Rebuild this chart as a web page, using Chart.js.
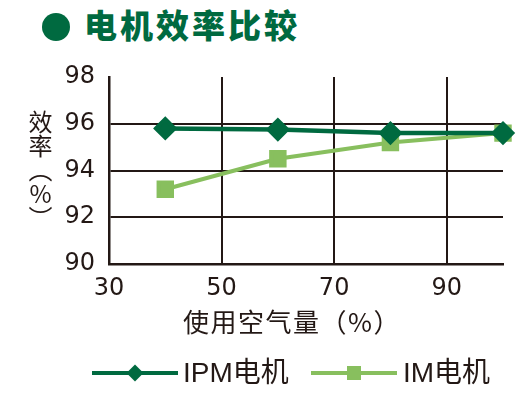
<!DOCTYPE html>
<html>
<head>
<meta charset="utf-8">
<script src="https://cdn.jsdelivr.net/npm/chart.js@4/dist/chart.umd.min.js"></script>
<style>
  body { margin: 0; width: 526px; height: 395px; background: #fff; position: relative; overflow: hidden;
         font-family: "Noto Sans CJK SC", sans-serif; color: #231815; }
  #chart { position: absolute; left: 0; top: 0; }
  #title { position: absolute; left: 42px; top: 1px; font-size: 33px; font-weight: 900; color: #006a40;
           letter-spacing: 3px; line-height: 46px; white-space: nowrap; }
  #title .dot { display: inline-block; width: 28px; height: 28px; border-radius: 50%; background: #006a40;
                vertical-align: -3px; margin-right: 14px; }
  #yTitle { position: absolute; left: 26px; top: 110px; writing-mode: vertical-rl; font-size: 24px; line-height: 28px; }
  #xTitle { position: absolute; left: 183px; top: 304px; font-size: 26px; line-height: 34px; letter-spacing: 1.5px; white-space: nowrap; }
  .lg-line { position: absolute; height: 4px; }
  .lg-mark { position: absolute; }
  .lg-text { position: absolute; font-family: "Liberation Sans", "Noto Sans CJK SC", sans-serif; font-size: 28px; line-height: 30px; white-space: nowrap; }
</style>
</head>
<body>
<div id="title"><span class="dot"></span>电机效率比较</div>
<canvas id="chart" width="526" height="395"></canvas>
<div id="yTitle">效率（<span style="text-orientation: upright">%</span>）</div>
<div id="xTitle">使用空气量（%）</div>
<div id="legend"></div>
<script>
const airUsage = [40, 60, 80, 100];
const ipmEfficiency = [95.8, 95.75, 95.6, 95.6];
const imEfficiency = [93.2, 94.5, 95.2, 95.6];
const xTickValues = [30, 50, 70, 90];
const yTickValues = [90, 92, 94, 96, 98];
const seriesNames = ['IPM电机', 'IM电机'];

const darkGreen = '#006a40';
const lightGreen = '#88bf5e';
const ink = '#231815';
const tickFont = { family: 'DejaVu Sans', size: 24 };

function toPoints(values) {
  return airUsage.map((x, i) => ({ x: x, y: values[i] }));
}

new Chart(document.getElementById('chart'), {
  type: 'line',
  data: {
    datasets: [{
      label: seriesNames[0],
      data: toPoints(ipmEfficiency),
      borderColor: darkGreen,
      backgroundColor: darkGreen,
      borderWidth: 4.5,
      pointStyle: 'rectRot',
      pointRadius: 9,
      pointHoverRadius: 9,
      clip: false
    }, {
      label: seriesNames[1],
      data: toPoints(imEfficiency),
      borderColor: lightGreen,
      backgroundColor: lightGreen,
      borderWidth: 4,
      pointStyle: 'rect',
      pointRadius: 9.5,
      pointHoverRadius: 9.5,
      clip: false
    }]
  },
  options: {
    responsive: false,
    devicePixelRatio: 1,
    animation: false,
    layout: { padding: { top: 77, right: 23, left: 0, bottom: 0 } },
    plugins: { legend: { display: false }, tooltip: { enabled: false } },
    scales: {
      x: {
        type: 'linear',
        min: 30,
        max: 100,
        afterBuildTicks: s => { s.ticks = xTickValues.map(v => ({ value: v })); },
        afterFit: s => { s.height = 131; },
        grid: {
          color: c => (c.tick && c.tick.value === 30) ? 'rgba(0,0,0,0)' : ink,
          lineWidth: 2,
          drawTicks: false
        },
        border: { color: ink, width: 2.5 },
        ticks: { padding: 10, font: tickFont, color: ink }
      },
      y: {
        min: 90,
        max: 98,
        afterBuildTicks: s => { s.ticks = yTickValues.map(v => ({ value: v })); },
        afterFit: s => { s.width = 109; },
        grid: {
          color: c => (c.tick && (c.tick.value === 98 || c.tick.value === 90)) ? 'rgba(0,0,0,0)' : ink,
          lineWidth: 2,
          drawTicks: false
        },
        border: { color: ink, width: 2.5 },
        ticks: { padding: 14, font: tickFont, color: ink }
      }
    }
  }
});

// legend: line with marker, then the series name
const legend = document.getElementById('legend');
const legendItems = [
  { name: seriesNames[0], color: darkGreen, lineLeft: 92, textLeft: 183, diamond: true },
  { name: seriesNames[1], color: lightGreen, lineLeft: 311, textLeft: 403, diamond: false }
];
legendItems.forEach(item => {
  const line = document.createElement('div');
  line.className = 'lg-line';
  line.style.cssText = `left:${item.lineLeft}px;top:371px;width:86px;background:${item.color}`;
  legend.appendChild(line);
  const mark = document.createElement('div');
  mark.className = 'lg-mark';
  const size = item.diamond ? 12 : 14;
  mark.style.cssText = `left:${item.lineLeft + 43 - size / 2}px;top:${373 - size / 2}px;width:${size}px;height:${size}px;background:${item.color};` +
    (item.diamond ? 'transform:rotate(45deg);' : '');
  legend.appendChild(mark);
  const text = document.createElement('div');
  text.className = 'lg-text';
  text.style.cssText = `left:${item.textLeft}px;top:358px`;
  text.textContent = item.name;
  legend.appendChild(text);
});
</script>
</body>
</html>
